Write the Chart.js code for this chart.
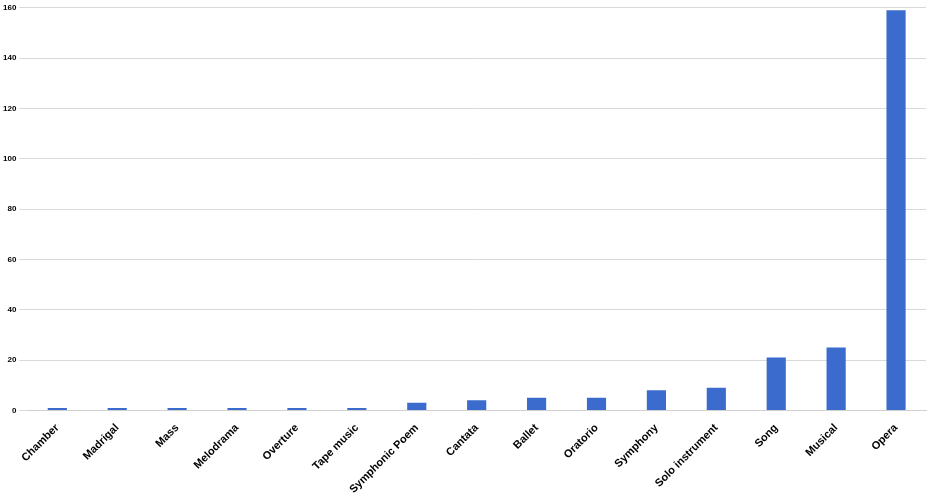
<!DOCTYPE html>
<html><head><script src="https://cdn.jsdelivr.net/npm/chart.js@4"></script>
<style>html,body{margin:0;padding:0;background:#fff}#w{width:934px;height:499px}</style></head>
<body><div id="w"><canvas id="c"></canvas></div>
<script>
const categories=["Chamber","Madrigal","Mass","Melodrama","Overture","Tape music","Symphonic Poem","Cantata","Ballet","Oratorio","Symphony","Solo instrument","Song","Musical","Opera"];
const counts=[1,1,1,1,1,1,3,4,5,5,8,9,21,25,159];
const yTicks={min:0,max:160,step:20};
new Chart(document.getElementById('c'),{type:'bar',
data:{labels:categories,datasets:[{data:counts,backgroundColor:'#3b6bcc',barPercentage:0.32,categoryPercentage:1}]},
options:{responsive:true,maintainAspectRatio:false,animation:false,
layout:{padding:{top:4,right:8,left:0,bottom:0}},
plugins:{legend:{display:false},tooltip:{enabled:false}},
scales:{x:{grid:{display:false},border:{color:'#d0d0d0'},ticks:{color:'#000',maxRotation:45,minRotation:45,font:{family:'Liberation Sans',size:11,weight:'bold'}}},
y:{min:yTicks.min,max:yTicks.max,grid:{color:'#d9d9d9'},border:{display:false},ticks:{stepSize:yTicks.step,color:'#000',font:{family:'Liberation Sans',size:8,weight:'bold'}}}}}});
</script></body></html>
